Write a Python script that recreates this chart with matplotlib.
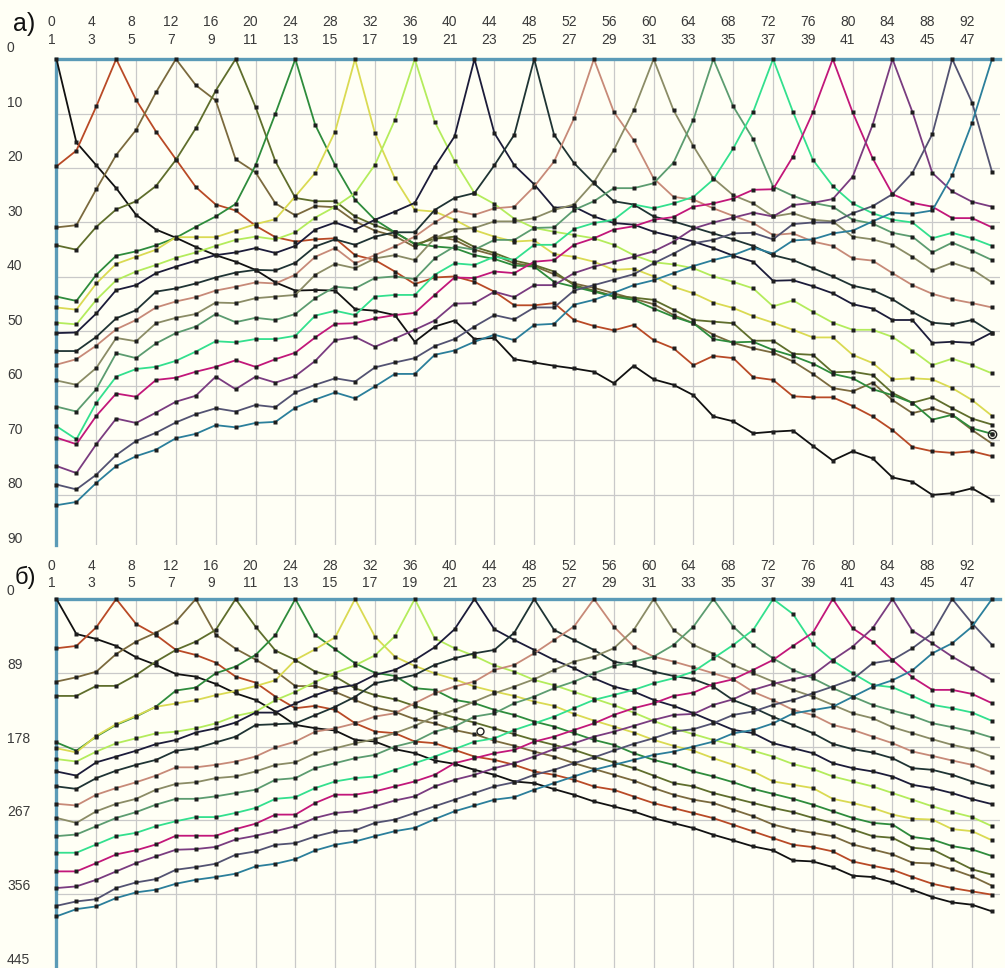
import matplotlib.pyplot as plt
from matplotlib.transforms import blended_transform_factory, offset_copy

plt.rcParams['font.family'] = ['Liberation Sans', 'DejaVu Sans']

# point numbers along the profile, and the two rows of labels on top
points = list(range(1, 49))
tick_pos = list(range(1, 48, 2))
top_row = [str(4 * k) for k in range(24)]
second_row = [str(2 * k + 1) for k in range(24)]

yticks_a = [0, 10, 20, 30, 40, 50, 60, 70, 80, 90]
yticks_b = [0, 89, 178, 267, 356, 445]

colors = ['#111111', '#b94a26', '#7b6a3e', '#5f6e2c', '#2e8c3c', '#dada52',
          '#b4ec5c', '#1c1c3a', '#1f3434', '#c78a78', '#8b8c66', '#5c9c70',
          '#33e08e', '#c2177a', '#7a3c80', '#535372', '#2b7f9b']

# panel a)
a01 = [0, 15.3, 19.5, 23.7, 28.6, 31.3, 32.8, 34.5, 36.0, 37.2,
       38.7, 41.0, 42.5, 42.4, 42.5, 45.9, 46.2, 47.0, 51.9, 49.1,
       48.0, 51.4, 51.2, 55.1, 55.7, 56.3, 56.8, 57.4, 59.5, 56.3,
       58.8, 59.8, 61.7, 65.6, 66.5, 68.7, 68.4, 68.2, 71.0, 73.7,
       72.0, 73.3, 76.8, 77.6, 80.0, 79.7, 78.8, 80.9]
a02 = [19.7, 16.8, 8.7, 0, 7.5, 13.3, 18.4, 23.5, 26.7, 27.8,
       30.6, 32.7, 33.5, 33.1, 32.9, 36.0, 36.9, 39.0, 41.3, 40.1,
       39.9, 40.9, 42.7, 45.2, 45.2, 44.8, 47.9, 49.0, 49.8, 48.8,
       51.6, 53.1, 56.2, 54.5, 54.9, 58.4, 58.9, 61.9, 62.1, 62.1,
       63.7, 65.6, 68.1, 71.2, 72.0, 72.3, 72.0, 72.9]
a03 = [30.9, 30.5, 23.9, 17.6, 13.0, 6.1, 0, 4.8, 7.6, 18.4,
       20.8, 26.5, 28.7, 27.0, 27.2, 29.8, 31.5, 32.5, 34.5, 32.5,
       33.2, 35.0, 36.0, 37.5, 38.0, 39.5, 41.2, 42.0, 43.0, 44.0,
       45.0, 47.0, 48.5, 50.6, 52.1, 53.1, 53.9, 55.5, 57.8, 60.4,
       61.0, 59.4, 62.6, 65.0, 64.1, 65.3, 68.1, 70.6]
a04 = [34.2, 35.0, 30.8, 27.6, 26.1, 23.3, 18.5, 12.7, 5.8, 0,
       8.8, 18.8, 25.5, 26.1, 26.1, 28.9, 30.5, 31.8, 34.0, 33.0,
       32.6, 34.5, 35.6, 37.0, 37.8, 39.0, 41.5, 42.5, 43.5, 43.8,
       44.2, 46.0, 47.9, 48.2, 48.5, 51.7, 51.7, 54.1, 54.3, 57.5,
       57.4, 58.0, 61.3, 63.1, 62.1, 64.1, 66.0, 67.1]
a05 = [43.6, 44.4, 39.6, 36.1, 35.3, 34.2, 32.8, 30.8, 28.9, 26.6,
       19.5, 10.0, 0, 12.1, 19.5, 25.8, 29.5, 31.8, 33.9, 34.4,
       34.7, 36.0, 36.7, 37.9, 38.1, 40.9, 41.8, 42.7, 43.6, 44.2,
       45.8, 47.3, 48.5, 51.4, 52.0, 51.9, 53.4, 54.5, 55.9, 57.8,
       58.6, 60.6, 61.7, 63.1, 66.2, 65.3, 67.8, 68.8]
a06 = [45.6, 46.0, 41.2, 37.6, 36.3, 35.0, 32.7, 32.7, 32.7, 31.5,
       30.3, 29.4, 25.2, 20.9, 13.3, 0, 13.6, 21.9, 27.7, 28.0,
       29.5, 31.4, 32.6, 33.5, 33.3, 35.8, 36.3, 37.2, 38.7, 38.5,
       39.9, 41.8, 43.0, 44.7, 45.7, 47.2, 48.4, 49.7, 51.1, 51.1,
       54.3, 55.8, 58.8, 58.6, 58.8, 60.4, 62.6, 65.5]
a07 = [48.4, 48.7, 44.2, 40.6, 39.0, 37.8, 36.5, 35.5, 34.3, 33.2,
       32.6, 33.1, 31.8, 29.1, 27.1, 24.6, 19.4, 11.2, 0, 11.5,
       18.7, 24.6, 26.6, 29.3, 31.0, 31.7, 32.3, 32.9, 34.1, 36.0,
       37.3, 37.7, 38.4, 39.9, 40.9, 42.1, 45.4, 44.3, 46.4, 48.4,
       49.7, 49.7, 51.0, 53.5, 56.2, 55.0, 56.2, 57.7]
a08 = [50.3, 50.2, 46.7, 42.4, 41.5, 39.3, 38.1, 37.0, 36.0, 35.5,
       34.7, 35.6, 34.3, 31.3, 30.0, 31.3, 29.5, 28.0, 26.4, 19.8,
       14.2, 0, 13.6, 19.5, 23.0, 27.3, 27.1, 28.9, 30.1, 30.4,
       31.7, 32.6, 33.5, 34.7, 36.1, 37.2, 40.7, 40.6, 41.7, 43.0,
       45.0, 45.8, 47.9, 47.9, 52.1, 51.9, 52.1, 50.2]
a09 = [53.6, 53.6, 51.0, 47.6, 46.1, 42.7, 42.1, 41.2, 40.1, 39.2,
       38.7, 38.8, 37.4, 34.4, 33.1, 34.1, 32.6, 31.8, 31.8, 27.7,
       25.5, 24.6, 19.5, 13.9, 0, 13.9, 19.1, 22.8, 26.1, 26.7,
       28.9, 29.8, 30.9, 32.0, 33.1, 34.3, 36.0, 36.9, 38.4, 39.9,
       41.6, 42.4, 44.1, 46.4, 48.4, 48.7, 47.9, 50.2]
a10 = [56.1, 55.1, 52.6, 49.6, 47.9, 45.6, 44.5, 43.7, 42.5, 41.8,
       41.0, 41.2, 39.6, 36.3, 34.7, 37.5, 36.0, 34.4, 32.6, 30.0,
       27.8, 28.6, 27.4, 27.1, 23.4, 18.8, 10.9, 0, 9.7, 14.9,
       21.9, 25.3, 25.8, 27.4, 28.8, 30.1, 32.3, 32.0, 33.5, 34.3,
       36.6, 37.0, 39.3, 41.5, 43.1, 44.1, 44.8, 45.6]
a11 = [59.0, 59.8, 56.7, 51.2, 51.8, 48.5, 47.5, 46.8, 44.7, 44.8,
       43.9, 43.6, 43.3, 39.6, 37.6, 38.4, 36.6, 36.0, 36.9, 32.9,
       31.3, 31.0, 29.8, 29.8, 29.2, 27.7, 26.7, 22.6, 16.7, 9.4,
       0, 9.4, 16.0, 21.9, 25.0, 26.5, 28.9, 28.3, 29.5, 29.8,
       32.6, 33.1, 34.1, 36.3, 38.8, 37.4, 38.6, 41.0]
a12 = [63.8, 64.7, 60.6, 54.0, 54.9, 52.2, 50.3, 49.1, 46.8, 48.3,
       47.5, 47.9, 46.8, 43.9, 41.8, 42.1, 40.2, 39.9, 40.4, 36.6,
       34.4, 35.0, 33.2, 33.2, 31.0, 30.9, 27.7, 26.1, 23.7, 23.7,
       22.8, 19.0, 11.1, 0, 8.7, 14.7, 23.4, 25.1, 26.4, 27.1,
       29.5, 30.2, 31.9, 32.6, 35.5, 33.7, 35.2, 36.9]
a13 = [67.4, 69.8, 63.1, 58.3, 56.9, 56.5, 55.4, 53.7, 51.8, 52.0,
       51.4, 51.4, 50.8, 47.1, 46.2, 47.0, 43.6, 43.3, 43.3, 39.6,
       37.5, 37.8, 36.3, 36.9, 34.1, 34.1, 31.2, 30.1, 29.5, 26.7,
       27.4, 26.5, 25.3, 22.1, 16.4, 9.7, 0, 9.7, 18.5, 23.3,
       26.5, 28.3, 29.5, 30.0, 32.9, 31.9, 32.9, 34.3]
a14 = [69.5, 70.7, 65.5, 61.4, 62.0, 58.9, 58.5, 57.4, 56.5, 55.3,
       56.5, 55.1, 53.9, 51.1, 48.6, 48.5, 47.6, 47.0, 46.6, 43.3,
       40.1, 40.2, 39.0, 39.3, 37.2, 36.9, 34.1, 32.9, 31.3, 30.7,
       29.5, 29.0, 27.1, 26.5, 25.6, 24.0, 23.9, 17.9, 9.8, 0,
       9.8, 18.2, 24.8, 26.4, 27.1, 29.2, 29.2, 30.9]
a15 = [74.7, 76.0, 70.7, 66.0, 66.8, 64.9, 62.9, 61.8, 58.3, 60.6,
       58.3, 59.4, 58.2, 55.4, 51.6, 51.0, 52.8, 51.3, 49.7, 48.0,
       44.9, 44.8, 42.7, 43.7, 41.5, 41.5, 39.3, 38.1, 37.2, 36.3,
       35.3, 33.5, 31.1, 30.0, 29.1, 28.2, 28.9, 26.8, 26.4, 25.7,
       21.6, 12.1, 0, 9.7, 20.9, 24.3, 26.2, 27.1]
a16 = [78.1, 79.0, 76.3, 72.7, 70.1, 68.6, 66.7, 65.2, 64.1, 64.7,
       63.5, 63.9, 61.2, 59.8, 58.6, 59.2, 56.6, 55.7, 54.9, 52.7,
       51.4, 49.1, 47.0, 47.8, 45.6, 45.6, 42.5, 41.5, 40.5, 39.5,
       37.5, 35.7, 33.8, 33.2, 32.0, 31.9, 33.1, 30.3, 30.0, 30.0,
       28.3, 27.0, 24.8, 20.9, 13.8, 0, 8.0, 20.7]
a17 = [81.9, 81.3, 77.8, 74.7, 72.9, 71.7, 69.6, 68.8, 67.2, 67.6,
       66.8, 66.6, 64.0, 62.5, 61.2, 62.3, 60.1, 57.8, 57.8, 54.3,
       53.5, 51.9, 50.6, 51.6, 48.8, 48.6, 45.1, 44.2, 42.9, 41.5,
       40.6, 39.3, 38.0, 36.9, 36.0, 34.6, 35.7, 33.3, 33.1, 32.0,
       31.5, 29.8, 28.2, 28.4, 27.8, 21.3, 11.7, 0]

# panel б)
b01 = [0, 42.2, 48.2, 56.6, 70.3, 79.5, 90.4, 93.6, 102.4, 113.7,
       121.7, 135.7, 151.8, 155.8, 158.6, 169.9, 171.9, 181.1, 185.9, 194.8,
       198.8, 206.0, 212.0, 220.1, 222.1, 229.3, 236.1, 244.2, 250.2, 256.2,
       264.3, 270.3, 276.3, 284.3, 291.2, 298.4, 303.2, 315.3, 316.5, 323.3,
       333.7, 335.3, 341.8, 350.6, 359.4, 365.9, 368.7, 376.7]
b02 = [59.4, 56.6, 34.1, 0, 30.1, 43.4, 61.4, 67.5, 76.7, 93.6,
       100.8, 117.7, 131.7, 128.9, 133.7, 149.8, 159.8, 161.8, 171.9, 173.9,
       181.9, 190.0, 194.0, 200.0, 208.0, 212.0, 218.1, 226.1, 230.1, 238.2,
       246.2, 252.2, 258.2, 264.3, 272.3, 280.3, 288.4, 296.4, 299.2, 304.4,
       316.5, 321.7, 326.5, 335.3, 343.4, 348.6, 352.6, 356.6]
b03 = [99.6, 94.4, 87.6, 66.3, 51.4, 40.6, 27.3, 0, 43.0, 60.0,
       73.0, 87.0, 105.0, 105.0, 112.0, 122.0, 131.0, 136.0, 145.0, 150.0,
       158.0, 163.0, 171.0, 177.0, 184.0, 190.0, 198.0, 205.0, 212.0, 219.0,
       228.0, 236.0, 242.0, 246.0, 254.0, 262.0, 272.0, 278.0, 282.0, 286.0,
       296.0, 302.0, 308.0, 318.0, 319.0, 326.0, 334.5, 345.8]
b04 = [116.9, 116.9, 104.8, 104.8, 91.6, 75.5, 61.4, 51.4, 37.3, 0,
       33.3, 62.2, 73.5, 87.6, 93.6, 107.6, 116.0, 121.0, 129.0, 136.0,
       143.0, 149.0, 156.0, 163.0, 170.0, 176.0, 182.0, 190.0, 197.0, 204.0,
       213.0, 222.0, 226.0, 234.0, 240.0, 246.0, 252.0, 257.0, 264.0, 270.0,
       278.0, 286.0, 288.0, 300.0, 302.0, 314.0, 326.0, 332.5]
b05 = [173.0, 183.0, 165.9, 151.8, 141.8, 129.7, 110.4, 106.8, 89.6, 81.5,
       67.5, 43.4, 0, 43.4, 60.6, 77.5, 89.0, 92.8, 107.6, 109.6,
       121.7, 125.7, 133.7, 139.8, 147.8, 153.8, 161.8, 169.9, 175.9, 185.9,
       194.0, 200.0, 208.0, 214.0, 221.0, 229.0, 235.0, 241.0, 248.0, 256.0,
       264.0, 270.0, 272.0, 287.0, 290.0, 298.0, 302.0, 310.0]
b06 = [180.0, 185.0, 165.0, 151.0, 141.0, 130.0, 126.0, 122.0, 116.0, 111.0,
       105.0, 98.0, 73.5, 60.6, 46.2, 0, 45.4, 69.5, 80.7, 89.6,
       96.8, 105.6, 111.6, 116.9, 123.7, 128.9, 138.6, 146.6, 153.8, 161.0,
       169.9, 177.1, 183.0, 192.0, 200.0, 208.0, 220.0, 224.0, 228.0, 241.0,
       246.0, 252.0, 260.0, 265.0, 266.0, 277.5, 280.0, 291.0]
b07 = [193.0, 196.0, 184.0, 174.0, 168.0, 162.0, 160.0, 156.0, 150.0, 141.0,
       136.0, 122.0, 112.0, 100.0, 89.0, 80.0, 68.0, 45.0, 0, 47.4,
       59.4, 68.7, 80.0, 87.6, 97.6, 104.0, 112.0, 120.0, 128.0, 137.0,
       147.0, 156.0, 163.0, 170.0, 176.0, 183.0, 190.0, 199.0, 205.0, 214.0,
       220.0, 226.0, 234.0, 242.0, 250.0, 257.0, 263.0, 274.0]
b08 = [208.0, 213.0, 197.0, 190.0, 183.0, 175.0, 170.0, 161.0, 156.0, 149.0,
       137.0, 137.0, 126.0, 116.0, 107.6, 103.6, 91.6, 85.5, 73.5, 58.2,
       36.5, 0, 36.5, 49.4, 61.4, 73.5, 83.5, 95.6, 105.6, 111.6,
       121.7, 128.9, 137.8, 147.8, 157.8, 161.8, 173.9, 179.9, 185.9, 198.0,
       204.0, 208.0, 214.1, 224.1, 228.1, 234.1, 241.4, 247.4]
b09 = [226.0, 229.0, 216.0, 207.0, 200.0, 194.0, 183.0, 180.0, 173.0, 166.0,
       152.0, 151.0, 150.0, 140.0, 130.0, 118.0, 101.6, 96.8, 91.6, 79.5,
       71.5, 65.5, 61.4, 40.6, 0, 37.3, 49.4, 61.4, 75.5, 80.0,
       87.6, 92.8, 96.8, 105.6, 122.0, 131.0, 142.0, 152.0, 161.8, 174.7,
       181.1, 185.1, 192.0, 204.0, 206.0, 212.0, 220.1, 226.1]
b10 = [247.0, 249.0, 236.0, 228.0, 221.0, 213.0, 203.0, 203.0, 200.0, 196.0,
       190.0, 179.0, 172.0, 160.0, 156.0, 150.0, 141.8, 137.8, 125.7, 113.7,
       105.6, 99.6, 85.5, 79.5, 65.5, 49.4, 33.3, 0, 33.3, 57.4,
       69.5, 75.5, 82.3, 89.6, 96.8, 112.0, 122.0, 133.7, 139.8, 151.8,
       157.8, 165.9, 173.9, 183.9, 189.2, 194.8, 200.0, 209.2]
b11 = [264.0, 270.0, 256.0, 247.0, 241.0, 230.0, 223.0, 221.0, 216.0, 214.0,
       208.0, 200.0, 197.0, 186.0, 180.0, 174.0, 169.0, 161.8, 153.0, 141.8,
       133.7, 123.7, 113.7, 105.6, 96.8, 85.5, 75.5, 69.5, 59.4, 37.3,
       0, 37.3, 55.4, 66.0, 79.5, 89.6, 99.6, 109.6, 117.7, 127.7,
       137.8, 143.8, 154.6, 161.8, 169.1, 175.9, 181.1, 190.0]
b12 = [286.0, 284.0, 274.0, 264.0, 257.0, 248.0, 241.0, 241.0, 238.0, 234.0,
       230.0, 218.0, 216.0, 204.0, 198.0, 192.0, 188.0, 178.0, 172.0, 160.0,
       153.8, 141.8, 137.8, 125.7, 117.7, 107.6, 99.6, 89.6, 80.7, 75.5,
       69.5, 55.4, 33.3, 0, 33.3, 55.4, 71.5, 85.5, 95.6, 107.6,
       117.7, 127.7, 134.5, 141.0, 149.8, 154.6, 159.8, 167.1]
b13 = [306.0, 306.0, 296.0, 286.0, 282.0, 274.0, 268.0, 263.0, 263.0, 258.0,
       252.0, 241.0, 239.0, 228.0, 220.0, 216.0, 214.0, 206.0, 198.0, 190.0,
       181.0, 172.0, 168.0, 158.0, 150.0, 141.8, 131.7, 121.7, 115.7, 109.6,
       101.6, 95.6, 87.6, 71.5, 55.4, 37.3, 0, 18.1, 54.2, 74.3,
       89.6, 103.6, 106.4, 116.9, 127.7, 131.7, 136.9, 147.0]
b14 = [328.5, 328.5, 318.5, 308.0, 303.0, 296.0, 285.5, 285.5, 285.5, 277.5,
       271.0, 260.0, 260.0, 246.0, 236.0, 236.0, 232.0, 226.0, 220.0, 212.0,
       198.0, 192.0, 186.0, 182.0, 172.0, 166.0, 158.0, 150.0, 139.8, 131.7,
       125.7, 116.9, 112.9, 102.4, 96.8, 85.5, 73.5, 56.6, 40.6, 0,
       35.3, 51.4, 73.5, 94.4, 109.6, 109.6, 114.5, 125.7]
b15 = [348.6, 346.6, 338.6, 328.5, 318.5, 310.4, 302.4, 301.6, 299.0, 290.0,
       285.5, 280.0, 274.0, 264.0, 258.0, 256.0, 250.0, 243.0, 238.0, 226.0,
       218.0, 212.0, 204.0, 198.0, 190.0, 181.0, 174.0, 166.0, 160.0, 153.0,
       145.8, 139.8, 138.6, 127.7, 120.9, 109.6, 102.4, 96.8, 91.6, 73.5,
       57.4, 35.3, 0, 38.2, 53.4, 69.5, 83.5, 97.6]
b16 = [370.0, 364.7, 362.0, 348.6, 341.8, 337.8, 326.5, 323.3, 319.3, 308.4,
       304.4, 296.4, 294.4, 286.3, 280.3, 279.0, 270.0, 266.0, 258.0, 250.0,
       242.0, 234.0, 226.0, 221.0, 212.0, 206.0, 198.0, 191.0, 182.7, 174.7,
       167.9, 159.8, 157.0, 149.8, 139.8, 135.7, 127.7, 121.7, 113.7, 105.6,
       96.8, 77.5, 73.5, 59.4, 41.4, 0, 29.3, 55.4]
b17 = [382.7, 374.0, 370.7, 360.6, 353.8, 350.6, 343.4, 338.6, 335.3, 331.3,
       322.5, 319.3, 313.7, 303.2, 296.4, 292.4, 286.0, 280.0, 276.0, 265.5,
       256.0, 249.0, 242.0, 239.0, 230.0, 222.0, 214.0, 206.0, 200.0, 194.0,
       188.0, 184.0, 178.0, 172.0, 162.0, 158.0, 150.0, 138.0, 134.0, 130.0,
       118.0, 106.0, 98.0, 86.0, 65.5, 53.4, 33.3, 0]

series_a = [a01, a02, a03, a04, a05, a06, a07, a08, a09, a10, a11, a12, a13, a14, a15, a16, a17]
series_b = [b01, b02, b03, b04, b05, b06, b07, b08, b09, b10, b11, b12, b13, b14, b15, b16, b17]

bg = '#fffff5'
grid_c = '#c9c9c9'
frame_c = '#5b9bb7'
text_c = '#3a3a3a'

fig = plt.figure(figsize=(10.05, 9.68), dpi=100)
fig.patch.set_facecolor(bg)

ax_a = fig.add_axes([0.0562, 0.437, 0.9388, 0.502])
ax_b = fig.add_axes([0.0562, 0.0, 0.9388, 0.3812])


def draw_panel(ax, series, yticks, ybottom, row_y, label_dy):
    ax.set_facecolor(bg)
    ax.set_xlim(1, 48.4)
    ax.set_ylim(ybottom, 0)
    ax.set_xticks([])
    ax.set_yticks([])
    for x in tick_pos[1:]:
        ax.axvline(x, color=grid_c, lw=0.9, zorder=1)
    for y in yticks[1:]:
        if y < ybottom:
            ax.axhline(y, color=grid_c, lw=0.9, zorder=1)
    for vals, c in zip(series, colors):
        ax.plot(points, vals, color=c, lw=1.3, marker='s', ms=2.3,
                mfc='#1e1e1e', mec='none', zorder=3, clip_on=False)
    for side in ['right', 'bottom']:
        ax.spines[side].set_visible(False)
    for side in ['top', 'left']:
        ax.spines[side].set_color(frame_c)
        ax.spines[side].set_linewidth(2.4)
        ax.spines[side].set_zorder(2)

    tx = blended_transform_factory(ax.transData, ax.transAxes)
    for x, t1, t2 in zip(tick_pos, top_row, second_row):
        ax.text(x - 0.25, row_y[0], t1, transform=tx, ha='center', va='center',
                fontsize=10, color=text_c)
        ax.text(x - 0.25, row_y[1], t2, transform=tx, ha='center', va='center',
                fontsize=10, color=text_c)
    ty = offset_copy(blended_transform_factory(ax.transAxes, ax.transData),
                     fig=fig, y=label_dy, units='points')
    for y in yticks:
        ax.text(-0.0525, y, str(y), transform=ty, ha='left', va='center',
                fontsize=10, color=text_c)


draw_panel(ax_a, series_a, yticks_a, 89.2, (1.0772, 1.0401), 7.6)
draw_panel(ax_b, series_b, yticks_b, 445, (1.0894, 1.0434), 5.8)

# cursor marks left on the screenshot
ax_a.plot([48], [68.9], marker='o', ms=6, mfc='none', mec='#222222', mew=1.0, zorder=5, clip_on=False)
ax_a.plot([48], [68.9], marker='o', ms=2, color='#222222', zorder=5, clip_on=False)
ax_b.plot([22.3], [159], marker='o', ms=5, mfc='none', mec='#222222', mew=1.0, zorder=5)

fig.text(13 / 1005, 1 - 24 / 968, 'а)', fontsize=18, ha='left', va='center', color='#111111')
fig.text(15 / 1005, 1 - 577 / 968, 'б)', fontsize=17, ha='left', va='center', color='#111111')

fig.savefig('out.png', dpi=100, facecolor=bg)
